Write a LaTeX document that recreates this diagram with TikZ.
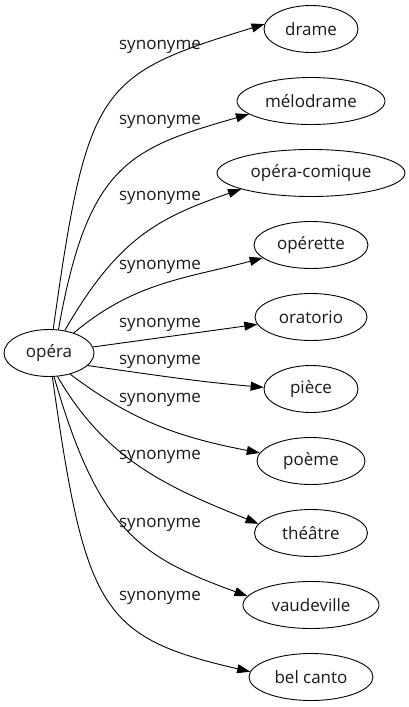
\documentclass[tikz,border=0pt]{standalone}
\usepackage{fontspec}
\setmainfont{Open Sans}
\usetikzlibrary{arrows.meta,shapes.geometric}

\begin{document}
\begin{tikzpicture}[x = 1pt, y = 1pt, font = \fontsize{17}{20}\selectfont,
			word/.style = {ellipse, draw, line width = 0.9pt, inner sep = 0pt, minimum height = 47pt, text = black!90},
			syn/.style = {inner sep = 0pt, text = black!90},
			rel/.style = {line width = 0.9pt, -{Triangle[length = 13pt, width = 9pt]}}]
			\useasboundingbox (0,0) rectangle (409,-707);
			\node (o) at (49,-353) [word, minimum width = 90pt] {opéra};
			\node (a) at (311,-29) [word, minimum width = 94pt] {drame};
			\node (b) at (311,-101) [word, minimum width = 148pt] {mélodrame};
			\node (c) at (311,-173) [word, minimum width = 188pt] {opéra-comique};
			\node (d) at (311,-245) [word, minimum width = 114pt] {opérette};
			\node (e) at (311,-317) [word, minimum width = 112pt] {oratorio};
			\node (f) at (311,-389) [word, minimum width = 94pt] {pièce};
			\node (g) at (311,-461) [word, minimum width = 108pt] {poème};
			\node (h) at (311,-533) [word, minimum width = 113pt] {théâtre};
			\node (i) at (311,-605) [word, minimum width = 136pt] {vaudeville};
			\node (j) at (311,-677) [word, minimum width = 124pt] {bel canto};
			% labels
			\node (la) at (160,-47) [syn] {synonyme};
			\node (lb) at (160,-122) [syn] {synonyme};
			\node (lc) at (160,-198) [syn] {synonyme};
			\node (ld) at (160,-267) [syn] {synonyme};
			\node (le) at (160,-325) [syn] {synonyme};
			\node (lf) at (160,-362) [syn] {synonyme};
			\node (lg) at (160,-400) [syn] {synonyme};
			\node (lh) at (160,-457) [syn] {synonyme};
			\node (li) at (160,-525) [syn] {synonyme};
			\node (lj) at (160,-598) [syn] {synonyme};
			\draw[rel] (o.80) to[out = 82, in = 197, out looseness = 1.7, in looseness = 1.2] (a.174);
			\draw[rel] (o.68) to[out = 80, in = 196, out looseness = 1.5, in looseness = 1.1] (b.192);
			\draw[rel] (o.55) to[out = 60, in = 199, out looseness = 1.2] (c.193);
			\draw[rel] (o.39) to[out = 40, in = 195] (d.195);
			\draw[rel] (o) -- (e);
			\draw[rel] (o.-18) to[out = -8, in = 175] (f.178);
			\draw[rel] (o.-45) to[out = -37, in = 169] (g.171);
			\draw[rel] (o.-70) to[out = -60, in = 158] (h.170);
			\draw[rel] (o.-78) to[out = -74, in = 160, out looseness = 1.4] (i.172);
			\draw[rel] (o.-82) to[out = -82, in = 167, out looseness = 1.7, in looseness = 1.1] (j.175);
			\end{tikzpicture}
\end{document}
